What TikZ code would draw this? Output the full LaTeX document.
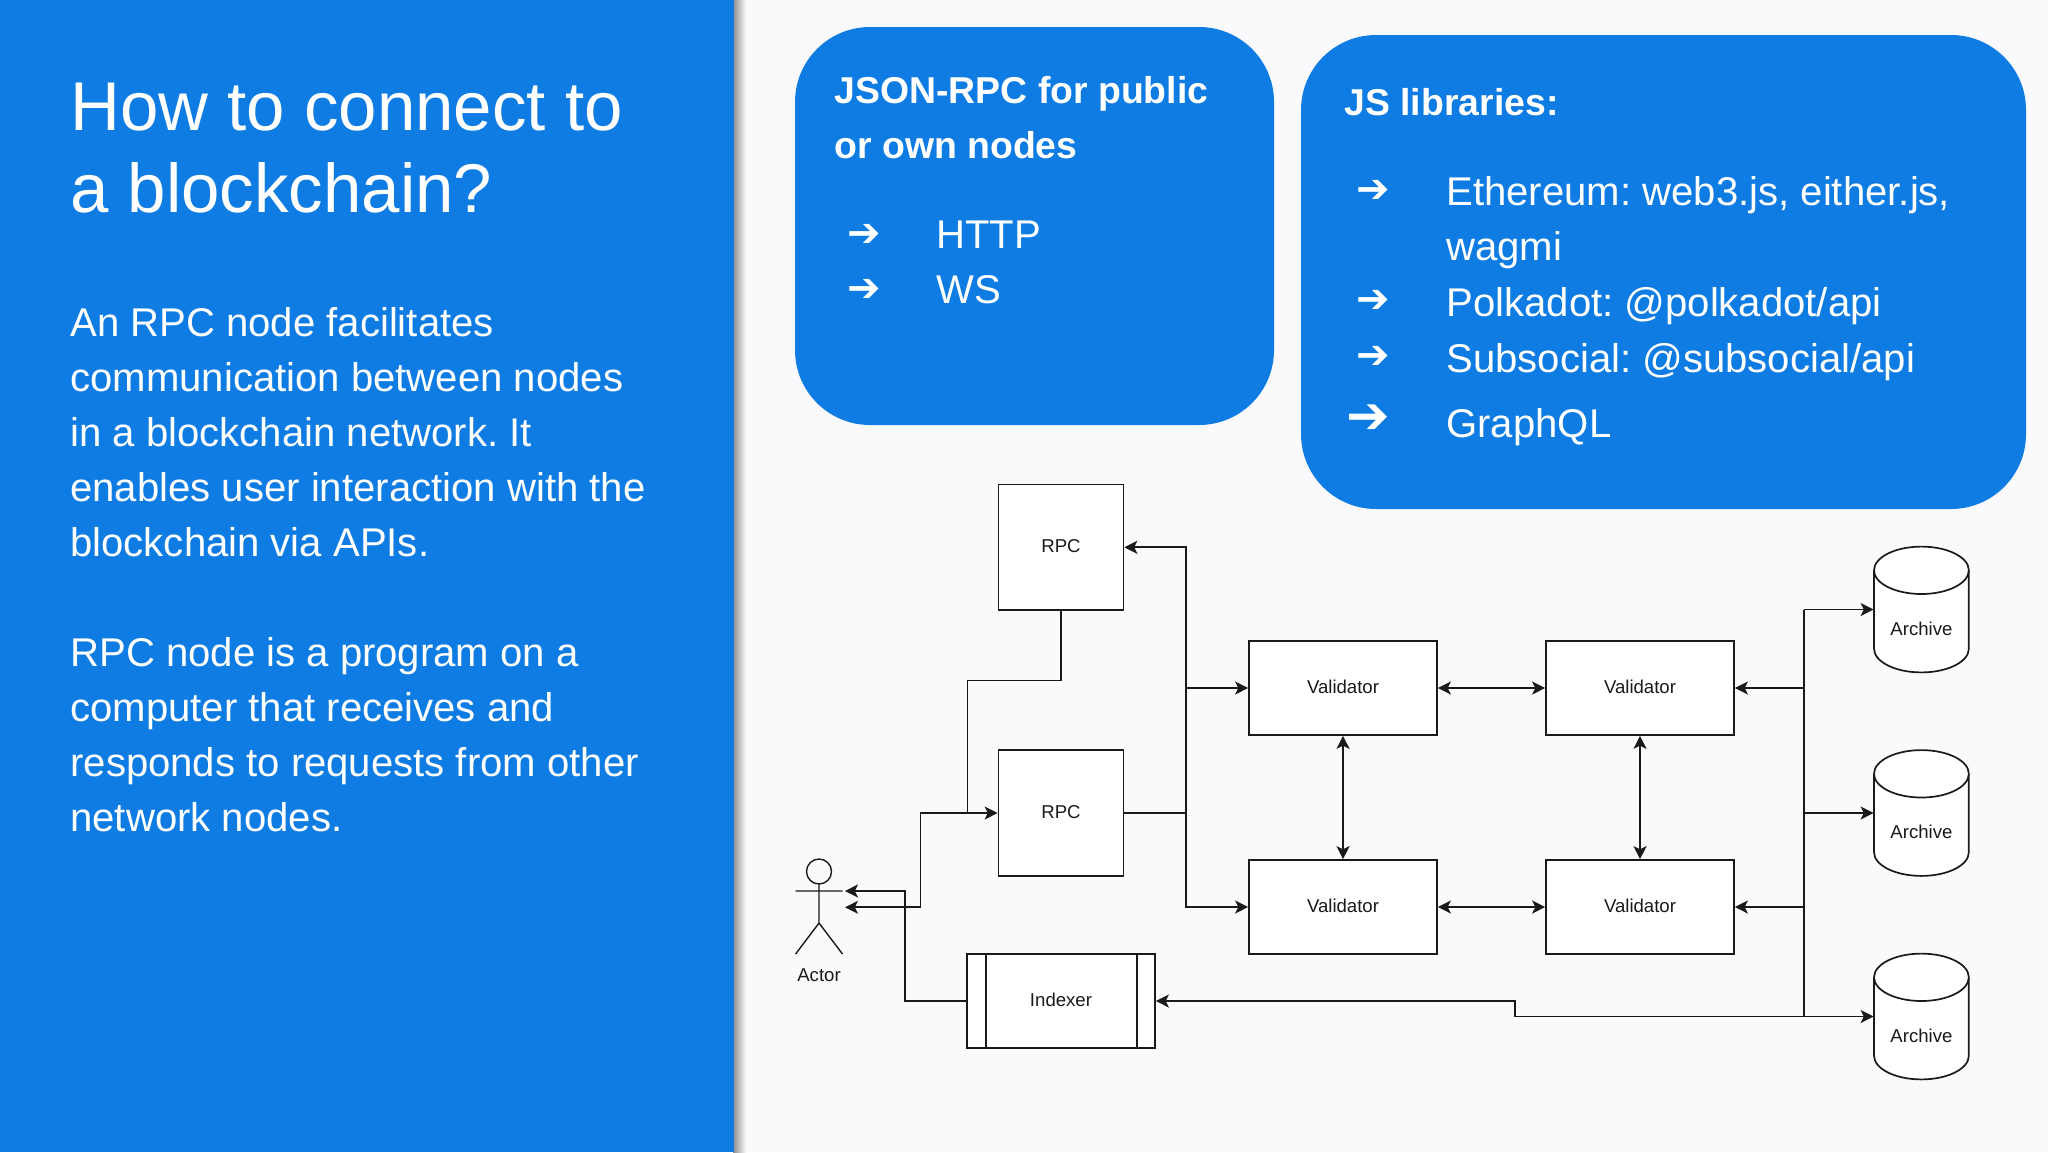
\documentclass[tikz,border=0pt]{standalone}
\usepackage{fontspec}
\setmainfont{Liberation Sans}
\newfontfamily\arrowfont{DejaVu Sans}
\usetikzlibrary{arrows.meta,calc}
\definecolor{slideblue}{HTML}{0E7CE3}
\definecolor{slidebg}{HTML}{FAFAFC}
\definecolor{ink}{HTML}{1A1A1A}
\tikzset{
  x=0.5pt,y=-0.5pt,
  panel/.style={fill=slideblue,draw=none,rounded corners=37.5pt},
  titletext/.style={anchor=base west,inner sep=0pt,text=white,font=\frenchspacing\fontsize{34.5pt}{40pt}\selectfont},
  bodytext/.style={anchor=base west,inner sep=0pt,text=white,font=\frenchspacing\fontsize{20.05pt}{24pt}\selectfont},
  headtext/.style={anchor=base west,inner sep=0pt,text=white,font=\frenchspacing\fontsize{18.7pt}{24pt}\selectfont\bfseries},
  bullet/.style={anchor=center,inner sep=0pt,text=white,font=\fontsize{20pt}{24pt}\arrowfont},
  bigbullet/.style={anchor=center,inner sep=0pt,text=white,font=\fontsize{26pt}{30pt}\arrowfont},
  diagbox/.style={draw=ink,fill=white,line width=0.85pt,inner sep=0pt,text=ink,text depth=1.5pt,font=\fontsize{9.3pt}{11pt}\selectfont},
  rpcbox/.style={diagbox,minimum width=62.5pt,minimum height=62.75pt},
  valbox/.style={diagbox,minimum width=94pt,minimum height=47pt},
  idxbox/.style={diagbox,minimum width=94pt,minimum height=47pt},
  archbox/.style={inner sep=0pt,minimum width=47.4pt,minimum height=62.9pt},
  difflabel/.style={inner sep=0pt,text=ink,font=\fontsize{9.3pt}{11pt}\selectfont},
  wire/.style={draw=ink,line width=0.85pt},
  flow/.style={wire,-{Stealth[length=6.5pt,width=6.5pt,inset=1.6pt]}},
  bothflow/.style={wire,{Stealth[length=6.5pt,width=6.5pt,inset=1.6pt]}-{Stealth[length=6.5pt,width=6.5pt,inset=1.6pt]}},
  actorline/.style={draw=ink,line width=0.7pt},
}
\newcommand{\archive}[3]{%
  \begin{scope}[shift={(#2,#3)}]
    \draw[wire,fill=white] (-47.4,-39.2) -- (-47.4,39.2)
      arc[start angle=180,end angle=0,x radius=47.4,y radius=23.7]
      -- (47.4,-39.2);
    \draw[wire,fill=white] (0,-39.2) ellipse[x radius=47.4,y radius=23.7];
  \end{scope}
  \node[archbox] (#1) at (#2,#3) {};
  \node[difflabel] (#1text) at (#2,#3+19) {Archive};
}
\begin{document}
\begin{tikzpicture}
\useasboundingbox (0,0) rectangle (2048,1152);
\fill[slidebg] (0,0) rectangle (2048,1152);
\shade[left color=black!45,right color=slidebg,draw=none] (733,0) rectangle (746,1152);
\fill[slideblue] (0,0) rectangle (734,1152);

% left panel text
\node[titletext] (t1) at (70,130) {How to connect to};
\node[titletext] (t2) at (70,212.5) {a blockchain?};
\node[bodytext] (b1) at (70,336) {An RPC node facilitates};
\node[bodytext] (b2) at (70,391) {communication between nodes};
\node[bodytext] (b3) at (70,446) {in a blockchain network. It};
\node[bodytext] (b4) at (70,501) {enables user interaction with the};
\node[bodytext] (b5) at (70,556) {blockchain via APIs.};
\node[bodytext] (b6) at (70,666) {RPC node is a program on a};
\node[bodytext] (b7) at (70,721) {computer that receives and};
\node[bodytext] (b8) at (70,776) {responds to requests from other};
\node[bodytext] (b9) at (70,831) {network nodes.};

% panels
\fill[panel] (795,27) rectangle (1274,425);
\fill[panel] (1301,35) rectangle (2026,509);

\node[headtext] (j1) at (834,103) {JSON-RPC for public};
\node[headtext] (j2) at (834,158) {or own nodes};
\node[bullet] (ja) at (864,235) {➔};
\node[bullet] (jb) at (864,290) {➔};
\node[bodytext] (j3) at (936,248) {HTTP};
\node[bodytext] (j4) at (936,303) {WS};

\node[headtext] (s1) at (1344,115) {JS libraries:};
\node[bullet] (sa) at (1373,191) {➔};
\node[bullet] (sb) at (1373,301) {➔};
\node[bullet] (sc) at (1373,357) {➔};
\node[bigbullet] (sd) at (1368,419) {➔};
\node[bodytext] (s2) at (1446,205) {Ethereum: web3.js, either.js,};
\node[bodytext] (s3) at (1446,260) {wagmi};
\node[bodytext] (s4) at (1446,316) {Polkadot: @polkadot/api};
\node[bodytext] (s5) at (1446,372) {Subsocial: @subsocial/api};
\node[bodytext] (s6) at (1446,437) {GraphQL};

% diagram nodes
\node[rpcbox] (rpc1) at (1061,547.3) {RPC};
\node[rpcbox] (rpc2) at (1061,813) {RPC};
\node[valbox] (va) at (1343,688) {Validator};
\node[valbox] (vb) at (1640,688) {Validator};
\node[valbox] (vc) at (1343,907) {Validator};
\node[valbox] (vd) at (1640,907) {Validator};
\node[idxbox] (idx) at (1061,1001) {Indexer};
\draw[wire] ($(idx.north west)+(19.5,0)$) -- ($(idx.south west)+(19.5,0)$);
\draw[wire] ($(idx.north east)+(-19,0)$) -- ($(idx.south east)+(-19,0)$);
\archive{a1}{1921.4}{609.5}
\archive{a2}{1921.4}{813}
\archive{a3}{1921.4}{1016.5}

% actor
\draw[actorline] (819,871.5) circle[radius=12.5];
\draw[actorline] (819,884) -- (819,923) (795.6,891) -- (842.5,891)
  (795.6,954) -- (819,923) -- (842.5,954);
\coordinate (actU) at (845,891);
\coordinate (actL) at (845,907.3);
\node[difflabel] (actor) at (819,975) {Actor};

% connectors
\coordinate (busL) at (1186,813);
\coordinate (busR) at (1804,813);
\draw[wire] (rpc1.south) |- (967.5,680.4) -- (967.5,813);
\draw[flow] (920.6,907.3) -- (920.6,813) -- (rpc2.west);
\draw[flow] (920.6,907.3) -- (actL);
\draw[flow] (idx.west) -- (905,1001) -- (905,891) -- (actU);
\draw[wire] (rpc2.east) -- (busL);
\draw[flow] (busL) |- (rpc1.east);
\draw[flow] (busL) |- (vc.west);
\draw[flow] (1186,688) -- (va.west);
\draw[bothflow] (va) -- (vb);
\draw[bothflow] (vc) -- (vd);
\draw[bothflow] (va) -- (vc);
\draw[bothflow] (vb) -- (vd);
\draw[flow] (1804,688) -- (vb.east);
\draw[flow] (1804,907) -- (vd.east);
\draw[wire] (1804,609.5) -- (1804,1016.5);
\draw[flow] (1804,609.5) -- (a1.west);
\draw[flow] (busR) -- (a2.west);
\draw[flow] (1515,1016.5) -- (a3.west);
\draw[flow] (1515,1016.5) -- (1515,1001) -- (idx.east);
\end{tikzpicture}
\end{document}
